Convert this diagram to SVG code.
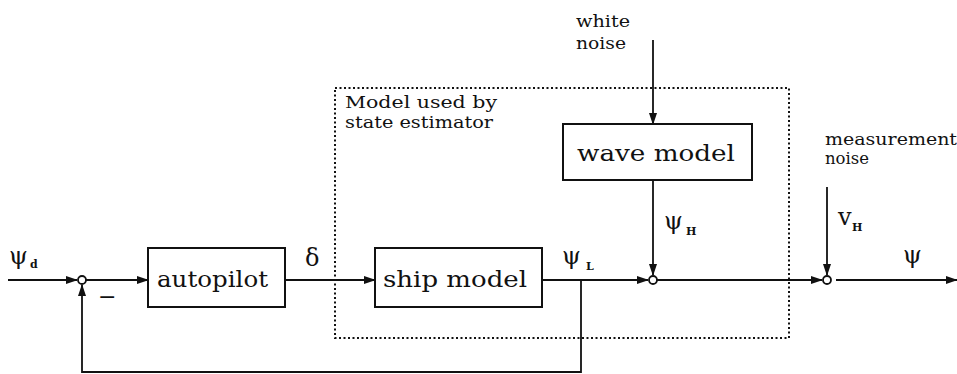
<svg xmlns="http://www.w3.org/2000/svg" width="957" height="374" viewBox="0 0 957 374">
<style>
.ln{stroke:#111;stroke-width:1.8;fill:none}
.bx{stroke:#111;stroke-width:2;fill:#fff}
.dot{stroke:#111;stroke-width:2;fill:none;stroke-dasharray:2 2.5}
.big{font-family:"DejaVu Serif","Liberation Serif",serif;font-size:22px;fill:#111}
.sm{font-family:"DejaVu Serif","Liberation Serif",serif;font-size:16px;fill:#111}
.sym{font-family:"DejaVu Serif","Liberation Serif",serif;font-size:24px;fill:#111}
.sub{font-family:"DejaVu Serif","Liberation Serif",serif;font-size:11px;font-weight:bold;fill:#111}
.j{stroke:#111;stroke-width:1.8;fill:#fff}
</style>
<defs>
<marker id="ah" markerWidth="12" markerHeight="8" refX="11" refY="4" orient="auto" markerUnits="userSpaceOnUse">
<path d="M0,0 L12,4 L0,8 Z" fill="#111"/>
</marker>
</defs>
<rect width="957" height="374" fill="#fff"/>
<g id="estimator-box">
<rect class="dot" x="335" y="88" width="454" height="250"/>
<text class="sm" x="345" y="108" textLength="152" lengthAdjust="spacingAndGlyphs">Model used by</text>
<text class="sm" x="345" y="128" textLength="148" lengthAdjust="spacingAndGlyphs">state estimator</text>
</g>
<g id="connectors">
<line class="ln" x1="8" y1="280" x2="77" y2="280" marker-end="url(#ah)"/>
<line class="ln" x1="86" y1="280" x2="148" y2="280" marker-end="url(#ah)"/>
<line class="ln" x1="285" y1="280" x2="375" y2="280" marker-end="url(#ah)"/>
<line class="ln" x1="542" y1="280" x2="648" y2="280" marker-end="url(#ah)"/>
<line class="ln" x1="653" y1="40" x2="653" y2="124" marker-end="url(#ah)"/>
<line class="ln" x1="653" y1="180" x2="653" y2="275" marker-end="url(#ah)"/>
<line class="ln" x1="657" y1="280" x2="822" y2="280" marker-end="url(#ah)"/>
<line class="ln" x1="827" y1="187" x2="827" y2="275" marker-end="url(#ah)"/>
<line class="ln" x1="836" y1="280" x2="957" y2="280" marker-end="url(#ah)"/>
<polyline class="ln" points="581,280 581,372 82,372 82,285" marker-end="url(#ah)"/>
</g>
<g id="sum1"><circle class="j" cx="82" cy="280" r="4"/></g>
<g id="sum2"><circle class="j" cx="653" cy="280" r="4"/></g>
<g id="sum3"><circle class="j" cx="827" cy="280" r="4"/></g>
<g id="autopilot">
<rect class="bx" x="148" y="248" width="137" height="59"/>
<text class="big" x="157" y="287" textLength="111" lengthAdjust="spacingAndGlyphs">autopilot</text>
</g>
<g id="ship-model">
<rect class="bx" x="375" y="248" width="167" height="59"/>
<text class="big" x="383" y="287" textLength="144" lengthAdjust="spacingAndGlyphs">ship model</text>
</g>
<g id="wave-model">
<rect class="bx" x="563" y="124" width="189" height="56"/>
<text class="big" x="577" y="161" textLength="158" lengthAdjust="spacingAndGlyphs">wave model</text>
</g>
<g id="labels">
<text class="sym" x="9" y="264">ψ</text><text class="sub" x="30" y="268">d</text>
<text class="big" x="98" y="304">−</text>
<text class="sym" x="305" y="266">δ</text>
<text class="sym" x="562" y="264">ψ</text><text class="sub" x="586" y="270">L</text>
<text class="sym" x="664" y="229">ψ</text><text class="sub" x="686" y="235">H</text>
<text class="sm" x="576" y="27" textLength="54" lengthAdjust="spacingAndGlyphs">white</text>
<text class="sm" x="576" y="49" textLength="50" lengthAdjust="spacingAndGlyphs">noise</text>
<text class="sm" x="825" y="145" textLength="132" lengthAdjust="spacingAndGlyphs">measurement</text>
<text class="sm" x="825" y="164" textLength="44" lengthAdjust="spacingAndGlyphs">noise</text>
<text class="sym" x="838" y="225">v</text><text class="sub" x="852" y="231">H</text>
<text class="sym" x="903" y="263">ψ</text>
</g>
</svg>
